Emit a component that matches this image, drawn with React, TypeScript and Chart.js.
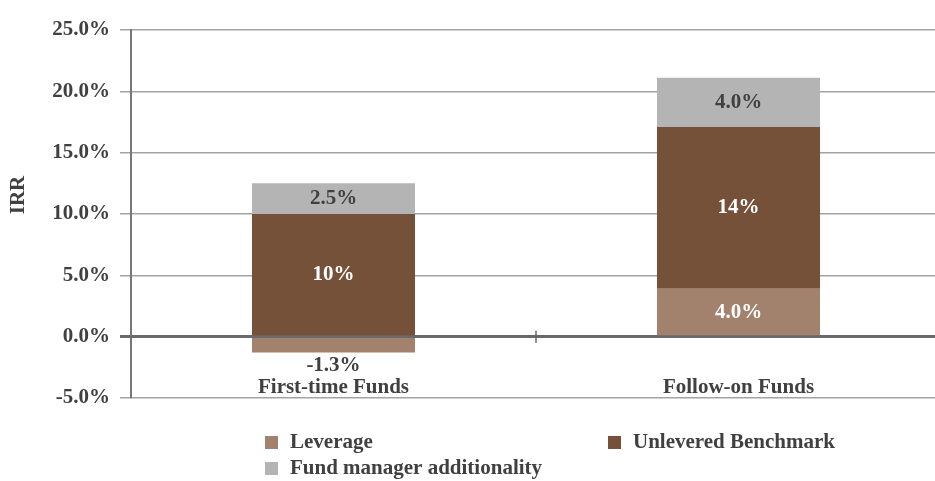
import React, { useEffect, useRef } from "react";
import { Chart, registerables } from "chart.js";

Chart.register(...registerables);

const categories = ["First-time Funds", "Follow-on Funds"];
const leverage = [-1.3, 3.9];
const unlevered = [10.0, 13.2];
const additionality = [2.5, 4.0];
const leverageLabels = ["-1.3%", "4.0%"];
const unleveredLabels = ["10%", "14%"];
const additionalityLabels = ["2.5%", "4.0%"];
const seriesNames = ["Leverage", "Unlevered Benchmark", "Fund manager additionality"];
const seriesColors = ["#a2826d", "#76513a", "#b4b4b4"];
const labelColors = ["#ffffff", "#ffffff", "#404040"];
const yMin = -5;
const yMax = 25;
const yStep = 5;
const yTitle = "IRR";

const FONT = "'Liberation Serif', 'Times New Roman', serif";
const TEXT = "#404040";
const FS = 21;

export default function App() {
  const ref = useRef<HTMLCanvasElement | null>(null);

  useEffect(() => {
    document.body.style.margin = "0";
    const canvas = ref.current;
    if (!canvas) return;
    const labelSets = [leverageLabels, unleveredLabels, additionalityLabels];

    const extras = {
      id: "extras",
      afterDatasetsDraw(chart: any) {
        const ctx = chart.ctx;
        const ys = chart.scales.y;
        const area = chart.chartArea;
        ctx.save();
        // zero line drawn over the bars
        const zeroY = ys.getPixelForValue(0);
        ctx.strokeStyle = "#6a6a6a";
        ctx.lineWidth = 2.5;
        ctx.beginPath();
        ctx.moveTo(area.left - 11, zeroY);
        ctx.lineTo(area.right, zeroY);
        ctx.stroke();

        ctx.font = `bold ${FS}px ${FONT}`;
        ctx.textAlign = "center";
        ctx.textBaseline = "middle";
        chart.data.datasets.forEach((ds: any, di: number) => {
          const meta = chart.getDatasetMeta(di);
          meta.data.forEach((el: any, i: number) => {
            const v = ds.data[i];
            const txt = labelSets[di][i];
            if (v < 0) {
              ctx.fillStyle = TEXT;
              ctx.fillText(txt, el.x, Math.max(el.y, el.base) + 13);
            } else {
              ctx.fillStyle = labelColors[di];
              ctx.fillText(txt, el.x, (el.y + el.base) / 2);
            }
          });
        });
        ctx.restore();
      },
      afterDraw(chart: any) {
        const ctx = chart.ctx;
        const xs = chart.scales.x;
        const ys = chart.scales.y;
        const area = chart.chartArea;
        ctx.save();
        // category divider tick on zero line
        const zeroY = ys.getPixelForValue(0);
        for (let i = 0; i < categories.length - 1; i++) {
          const xd = (xs.getPixelForValue(i) + xs.getPixelForValue(i + 1)) / 2;
          ctx.strokeStyle = "#666";
          ctx.lineWidth = 1.5;
          ctx.beginPath();
          ctx.moveTo(xd, zeroY - 6);
          ctx.lineTo(xd, zeroY + 6);
          ctx.stroke();
        }
        // category labels inside plot above bottom line
        ctx.font = `bold ${FS}px ${FONT}`;
        ctx.fillStyle = TEXT;
        ctx.textAlign = "center";
        ctx.textBaseline = "middle";
        categories.forEach((c, i) => {
          ctx.fillText(c, xs.getPixelForValue(i), area.bottom - 10);
        });
        // y title
        ctx.save();
        ctx.translate(19, 195);
        ctx.rotate(-Math.PI / 2);
        ctx.fillText(yTitle, 0, 0);
        ctx.restore();
        // legend
        const cols = [265, 608];
        const rows = [443, 469];
        seriesNames.forEach((n, i) => {
          const cx = cols[i % 2];
          const cy = rows[Math.floor(i / 2)];
          ctx.fillStyle = seriesColors[i];
          ctx.fillRect(cx, cy - 7, 13, 13);
          ctx.fillStyle = TEXT;
          ctx.textAlign = "left";
          ctx.fillText(n, cx + 25, cy);
        });
        ctx.restore();
      },
    };

    const chart = new Chart(canvas, {
      type: "bar",
      data: {
        labels: categories,
        datasets: [leverage, unlevered, additionality].map((d, i) => ({
          label: seriesNames[i],
          data: d,
          backgroundColor: seriesColors[i],
          borderWidth: 0,
          categoryPercentage: 1,
          barPercentage: 0.4025,
        })),
      },
      options: {
        responsive: false,
        animation: false,
        devicePixelRatio: 1,
        layout: { padding: { top: 30, bottom: 83, left: 0, right: 0 } },
        plugins: { legend: { display: false }, tooltip: { enabled: false }, title: { display: false } },
        scales: {
          x: { stacked: true, display: false },
          y: {
            stacked: true,
            min: yMin,
            max: yMax,
            afterFit: (s: any) => {
              s.width = 131;
            },
            border: { display: true, color: "#777", width: 2 },
            grid: {
              color: (c: any) => (c.tick && c.tick.value === 0 ? "#666" : "#a3a3a3"),
              lineWidth: (c: any) => (c.tick && c.tick.value === 0 ? 2.5 : 1.5),
              tickLength: 11,
            },
            ticks: {
              stepSize: yStep,
              padding: 10,
              color: TEXT,
              font: { family: FONT, size: FS, weight: "bold" },
              callback: (v: any) => Number(v).toFixed(1) + "%",
            },
          },
        },
      },
      plugins: [extras],
    });
    return () => chart.destroy();
  }, []);

  return (
    <div style={{ width: 935, height: 481, overflow: "hidden", position: "relative", background: "#fff" }}>
      <canvas ref={ref} width={941} height={481} style={{ display: "block", width: 941, height: 481 }} />
    </div>
  );
}
